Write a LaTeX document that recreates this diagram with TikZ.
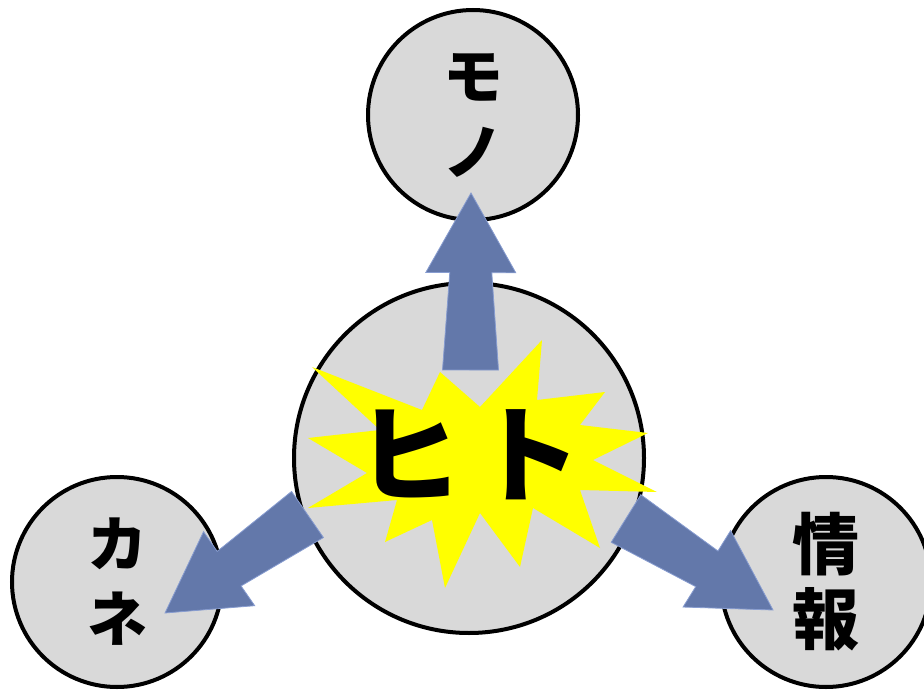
\documentclass[tikz,border=0pt]{standalone}
\usepackage{fontspec}
\newfontfamily\jpfont{Noto Sans CJK JP}
\usetikzlibrary{calc}
\definecolor{circfill}{RGB}{217,217,217}
\definecolor{arrowblue}{RGB}{99,120,170}
\definecolor{arrowedge}{RGB}{135,156,208}
\definecolor{staryellow}{RGB}{255,255,0}
\tikzset{
  bubble/.style={circle, draw=black, line width=4pt, fill=circfill, inner sep=0pt, align=center, text=black},
  blockarrow/.style={fill=arrowblue, draw=arrowedge, line width=0.8pt, line join=miter},
  burst/.style={fill=staryellow, draw=none},
  smalltext/.style={font=\jpfont\bfseries\fontsize{60}{76}\selectfont},
  kanjitext/.style={font=\jpfont\bfseries\fontsize{67}{75}\selectfont},
  bigtext/.style={font=\jpfont\bfseries\fontsize{106}{120}\selectfont, inner sep=0pt},
}
\newcommand\blockarr[2]{%
  \path[blockarrow] ($(#1)!28pt!90:(#2)$) -- ($(#1)!0.55!(#2)!21pt!90:(#2)$)
    -- ($(#1)!0.55!(#2)!45pt!90:(#2)$) -- (#2)
    -- ($(#1)!0.55!(#2)!45pt!-90:(#2)$) -- ($(#1)!0.55!(#2)!21pt!-90:(#2)$)
    -- ($(#1)!28pt!-90:(#2)$) -- cycle;}
\begin{document}
\begin{tikzpicture}[x=1pt, y={(0pt,-1pt)}]
  \clip (0,0) rectangle (924,693);
  \fill[white] (0,0) rectangle (924,693);
  % circles
  \node[bubble, minimum size=210pt, smalltext] (mono) at (473,115) {モ\\ノ};
  \node[bubble, minimum size=350pt] (hito) at (469,458) {};
  \node[bubble, minimum size=210pt, font=\jpfont\bfseries\fontsize{60}{75}\selectfont] (kane) at (117,582) {カ\\ネ};
  \node[bubble, minimum size=210pt, kanjitext] (joho) at (826,582) {情\\報};
  % arrow ends
  \coordinate (upbase) at (470.5,370);
  \coordinate (uptip) at (471,193);
  \coordinate (leftbase) at (307.5,514.5);
  \coordinate (lefttip) at (165,613);
  \coordinate (rightbase) at (626,518.5);
  \coordinate (righttip) at (773,610);
  \blockarr{upbase}{uptip}
  \blockarr{leftbase}{lefttip}
  \blockarr{rightbase}{righttip}
  % starburst
  \path[burst] (312,367) -- (422,410) -- (440,372) -- (480,407) -- (542,340)
    -- (537,400) -- (605,392) -- (580,425) -- (648,433) -- (593,460)
    -- (657,492) -- (580,490) -- (600,548) -- (533,508) -- (520,567)
    -- (480,513) -- (445,588) -- (432,520) -- (385,542) -- (397,500)
    -- (308,508) -- (367,473) -- (308,438) -- (380,430) -- cycle;
  \node[bigtext] (hitotext) at (469,455) {ヒ\hspace{14pt}ト};
\end{tikzpicture}
\end{document}
